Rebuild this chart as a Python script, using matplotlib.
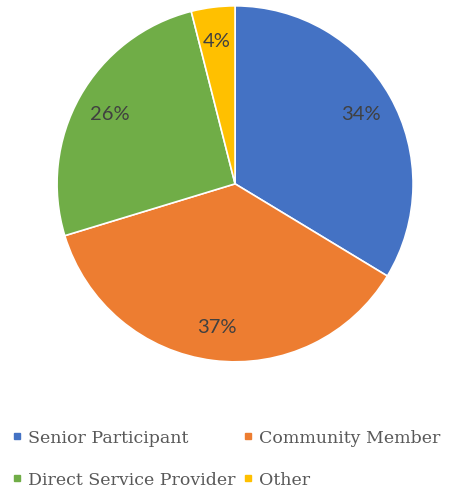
import matplotlib
matplotlib.use("Agg")
import matplotlib.pyplot as plt
from matplotlib.lines import Line2D

# --- Data ---
categories = ["Senior Participant", "Community Member", "Direct Service Provider", "Other"]
shares = [34, 37, 26, 4]
colors = ["#4472C4", "#ED7D31", "#70AD47", "#FFC000"]

fig = plt.figure(figsize=(4.56, 4.89), dpi=100)
ax = fig.add_axes([0.125, 0.258, 0.781, 0.728])

wedges, texts, autotexts = ax.pie(
    shares,
    colors=colors,
    startangle=90,
    counterclock=False,
    autopct="%1.0f%%",
    pctdistance=0.81,
    wedgeprops=dict(edgecolor="white", linewidth=1.2),
    textprops=dict(color="#404040", fontsize=14.5, family="Lato"),
)
# show the rounded survey figures as printed
for t, v in zip(autotexts, shares):
    t.set_text(f"{v}%")
ax.set_xlim(-1, 1)
ax.set_ylim(-1, 1)
ax.set_aspect("equal")

handles = [Line2D([0], [0], marker="s", linestyle="", markersize=5,
                  markerfacecolor=c, markeredgecolor=c) for c in colors]
# legend fills column-wise; reorder so rows read like the original
order = [0, 2, 1, 3]
fig.legend([handles[i] for i in order], [categories[i] for i in order],
           ncol=2, loc="upper left",
           bbox_to_anchor=(-0.008, 0.152), frameon=False,
           prop=dict(family="DejaVu Serif", size=12.5),
           handlelength=0.6, handletextpad=0.3, columnspacing=0.45,
           labelspacing=1.45, labelcolor="#595959")

fig.savefig("out.png", dpi=100)
